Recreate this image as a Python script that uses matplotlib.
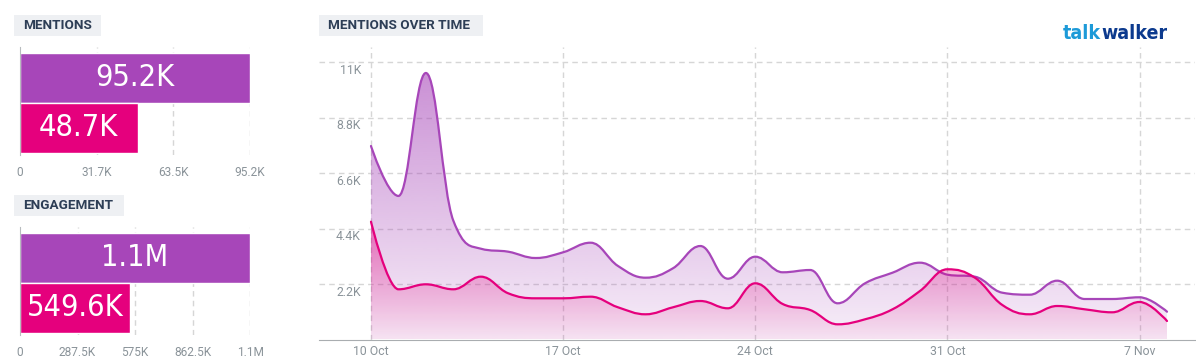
import numpy as np
import matplotlib
matplotlib.use("Agg")
import matplotlib.pyplot as plt
from matplotlib.path import Path
from matplotlib.patches import PathPatch, Rectangle
from matplotlib.colors import to_rgb
from matplotlib.transforms import blended_transform_factory, ScaledTranslation

# ---- data ----
mention_labels = ["95.2K", "48.7K"]
mention_values = [95200, 48700]
mention_ticks = [0, 31733, 63467, 95200]
mention_tick_labels = ["0", "31.7K", "63.5K", "95.2K"]

engagement_labels = ["1.1M", "549.6K"]
engagement_values = [1150000, 549600]
engagement_ticks = [0, 287500, 575000, 862500, 1150000]
engagement_tick_labels = ["0", "287.5K", "575K", "862.5K", "1.1M"]

# one point per day, 10 Oct .. 8 Nov
day_index = list(range(30))
series_a = [7670, 5690, 10565, 4710, 3600, 3480, 3230, 3457, 3837, 2913,
            2450, 2822, 3706, 2410, 3282, 2664, 2755, 1435, 2228, 2648,
            3045, 2570, 2490, 1855, 1776, 2331, 1605, 1605, 1673, 1102]
series_b = [4670, 1990, 2188, 1990, 2490, 1831, 1633, 1633, 1697, 1276,
            999, 1276, 1526, 1237, 2228, 1407, 1169, 602, 801, 1197,
            1923, 2783, 2450, 1368, 999, 1328, 1197, 1078, 1487, 733]
date_ticks = [0, 7, 14, 21, 28]
date_tick_labels = ["10 Oct", "17 Oct", "24 Oct", "31 Oct", "7 Nov"]
value_ticks = [2200, 4400, 6600, 8800, 11000]
value_tick_labels = ["2.2K", "4.4K", "6.6K", "8.8K", "11K"]

PURPLE = "#a746b9"
PINK = "#e5007d"
GRID = "#d6d6d6"
TICK = "#8a9399"
HEAD_BG = "#eef0f3"
HEAD_FG = "#2d3e56"
NARROW = dict(family="DejaVu Sans", stretch="condensed")

W, H = 1196, 363
fig = plt.figure(figsize=(W / 100, H / 100), dpi=100)


def px_axes(x0, y0, x1, y1):
    return fig.add_axes([x0 / W, 1 - y1 / H, (x1 - x0) / W, (y1 - y0) / H])


def header(x0, y0, x1, y1, text):
    fig.patches.append(Rectangle((x0 / W, 1 - y1 / H), (x1 - x0) / W, (y1 - y0) / H,
                                 transform=fig.transFigure, facecolor=HEAD_BG,
                                 edgecolor="none"))
    fig.text((x0 + 9) / W, 1 - (y0 + y1) / 2 / H, text, ha="left", va="center",
             fontsize=9.7, fontweight="bold", color=HEAD_FG, family="Roboto")


def bar_panel(ax, values, labels, ticks, tick_labels):
    pos = [1, 0]
    ax.barh(pos, values, height=1.0, color=[PURPLE, PINK], edgecolor="white",
            linewidth=1, zorder=2)
    for p, v, lab in zip(pos, values, labels):
        ax.text(v / 2, p, lab, ha="center", va="center", color="white",
                fontsize=22, zorder=3, **NARROW)
    ax.set_xlim(0, ticks[-1])
    ax.set_ylim(-0.54, 1.62)
    ax.set_xticks(ticks)
    ax.set_xticklabels(tick_labels, fontsize=8.6, color=TICK, family="Roboto")
    ax.tick_params(axis="x", length=0, pad=8)
    ax.set_yticks([])
    for t in ticks[1:]:
        ax.axvline(t, color=GRID, lw=1, ls=(0, (4, 3)), zorder=1)
    for s in ["top", "right", "bottom"]:
        ax.spines[s].set_visible(False)
    ax.spines["left"].set_color("#b8bcbf")
    ax.patch.set_alpha(0)


def spline_path(x, y, smoothing=1.5):
    n = len(x)
    lc = [(x[i], y[i]) for i in range(n)]
    rc = [(x[i], y[i]) for i in range(n)]
    for i in range(1, n - 1):
        lx = (smoothing * x[i] + x[i - 1]) / (smoothing + 1)
        ly = (smoothing * y[i] + y[i - 1]) / (smoothing + 1)
        rx = (smoothing * x[i] + x[i + 1]) / (smoothing + 1)
        ry = (smoothing * y[i] + y[i + 1]) / (smoothing + 1)
        corr = (ry - ly) * (rx - x[i]) / (rx - lx) + y[i] - ry
        ly += corr
        ry += corr
        if ly > max(y[i - 1], y[i]):
            ly = max(y[i - 1], y[i]); ry = 2 * y[i] - ly
        elif ly < min(y[i - 1], y[i]):
            ly = min(y[i - 1], y[i]); ry = 2 * y[i] - ly
        if ry > max(y[i + 1], y[i]):
            ry = max(y[i + 1], y[i]); ly = 2 * y[i] - ry
        elif ry < min(y[i + 1], y[i]):
            ry = min(y[i + 1], y[i]); ly = 2 * y[i] - ry
        lc[i] = (lx, ly)
        rc[i] = (rx, ry)
    verts = [(x[0], y[0])]
    codes = [Path.MOVETO]
    for i in range(1, n):
        verts += [rc[i - 1], lc[i], (x[i], y[i])]
        codes += [Path.CURVE4] * 3
    return verts, codes


def area(ax, x, y, color, a_top, a_bottom, z):
    verts, codes = spline_path(x, y)
    line = PathPatch(Path(verts, codes), facecolor="none", edgecolor=color,
                     lw=1.6, zorder=z + 1, capstyle="round", joinstyle="round")
    verts_a = verts + [(x[-1], 0), (x[0], 0), (x[0], y[0])]
    codes_a = codes + [Path.LINETO, Path.LINETO, Path.CLOSEPOLY]
    clip = PathPatch(Path(verts_a, codes_a), facecolor="none", edgecolor="none")
    ax.add_patch(clip)
    grad = np.zeros((256, 1, 4))
    grad[:, 0, :3] = to_rgb(color)
    grad[:, 0, 3] = np.linspace(a_top, a_bottom, 256)
    im = ax.imshow(grad, extent=[x[0], x[-1], 0, max(y)], origin="upper",
                   aspect="auto", interpolation="bilinear", zorder=z)
    im.set_clip_path(clip)
    ax.add_patch(line)


# ---- left: bar panels ----
header(14, 15, 101, 36, "MENTIONS")
ax1 = px_axes(20, 47, 250, 155)
bar_panel(ax1, mention_values, mention_labels, mention_ticks, mention_tick_labels)

header(14, 195, 124, 216, "ENGAGEMENT")
ax2 = px_axes(20, 227, 250, 335)
bar_panel(ax2, engagement_values, engagement_labels, engagement_ticks,
          engagement_tick_labels)

# ---- right: mentions over time ----
header(319, 15, 483, 36, "MENTIONS OVER TIME")
ax = px_axes(319, 47, 1195, 339.5)
ax.set_axisbelow(True)
area(ax, day_index, series_a, PURPLE, 0.6, 0.09, 2)
area(ax, day_index, series_b, PINK, 0.45, 0.05, 4)
ax.set_xlim(-1.894, 30.02)
ax.set_ylim(0, 11595)
ax.set_xticks(date_ticks)
ax.set_xticklabels(date_tick_labels, fontsize=8.8, color=TICK, family="Roboto")
ax.tick_params(axis="x", length=0, pad=4)
ax.set_yticks(value_ticks)
ax.set_yticklabels([])
ax.tick_params(axis="y", length=0)
ax.grid(True, color=GRID, lw=1, ls=(0, (4, 3)))
for s in ["top", "right", "left"]:
    ax.spines[s].set_visible(False)
ax.spines["bottom"].set_color("#a9adb0")
ytrans = blended_transform_factory(ax.transAxes, ax.transData) + \
    ScaledTranslation(0, -8 / 100, fig.dpi_scale_trans)
for v, lab in zip(value_ticks, value_tick_labels):
    ax.text(42 / 876, v, lab, transform=ytrans, ha="right", va="center",
            fontsize=8.8, color=TICK, family="Roboto")

# logo text
fig.text(1101 / W, 1 - 39 / H, "talk", ha="right", va="baseline", fontsize=14,
         fontweight="bold", color="#1d9ad8", **NARROW)
fig.text(1101 / W, 1 - 39 / H, "walker", ha="left", va="baseline", fontsize=14,
         fontweight="bold", color="#0c3a8e", **NARROW)

fig.savefig("out.png", dpi=100)
